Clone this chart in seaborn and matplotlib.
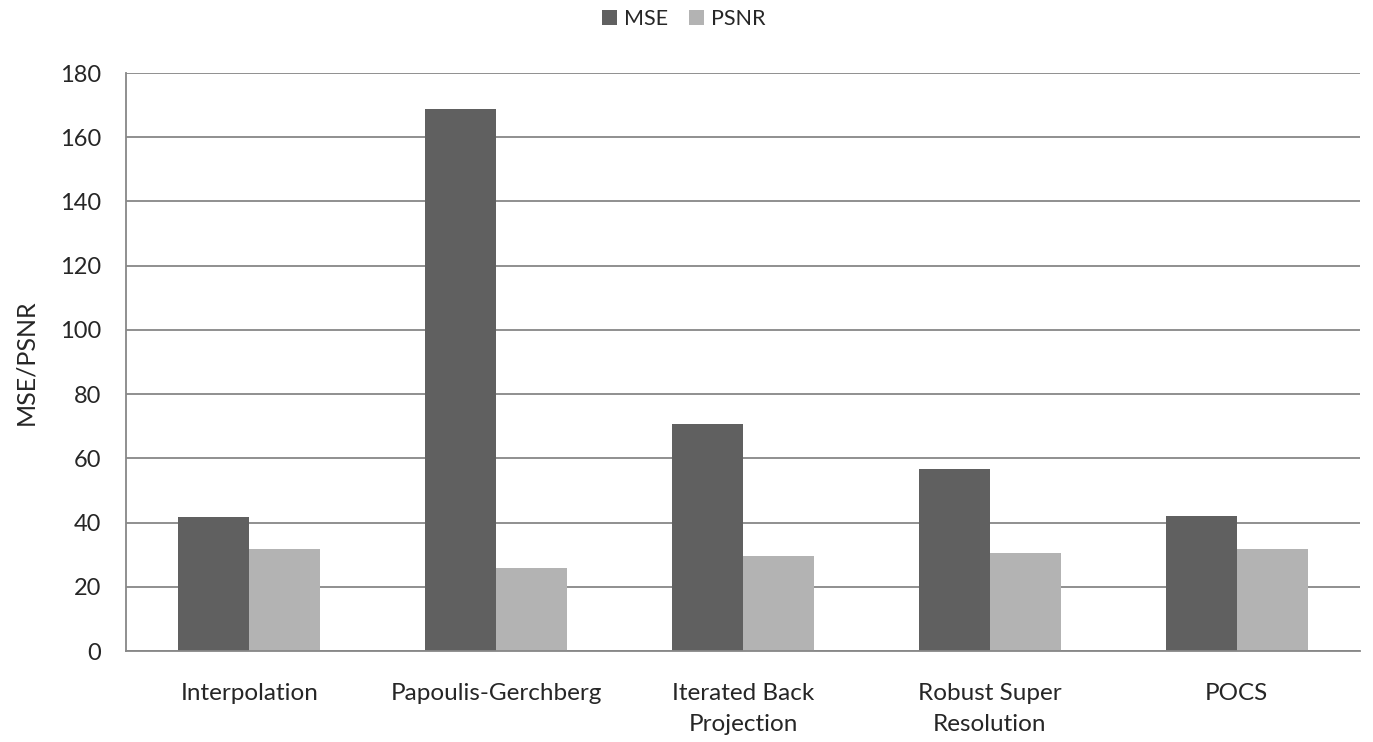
import matplotlib
matplotlib.use("Agg")
import matplotlib.pyplot as plt
import seaborn as sns
import pandas as pd
import numpy as np

categories = ["Interpolation", "Papoulis-Gerchberg", "Iterated Back\nProjection",
              "Robust Super\nResolution", "POCS"]
mse = [41.7, 168.8, 70.6, 56.8, 41.9]
psnr = [31.9, 25.8, 29.6, 30.5, 31.9]
yticks = [0, 20, 40, 60, 80, 100, 120, 140, 160, 180]

df = pd.DataFrame({
    "Method": categories * 2,
    "Value": mse + psnr,
    "Metric": ["MSE"] * len(categories) + ["PSNR"] * len(categories),
})

sns.set_theme(style="white")
plt.rcParams["font.family"] = ["Lato", "DejaVu Sans"]

fig = plt.figure(figsize=(13.73, 7.42), dpi=100)
ax = fig.add_axes([126 / 1373, 1 - 651 / 742, (1360 - 126) / 1373, (651 - 73) / 742])

sns.barplot(data=df, x="Method", y="Value", hue="Metric",
            palette={"MSE": "#606060", "PSNR": "#b3b3b3"},
            width=0.575, gap=0, ax=ax, saturation=1, errorbar=None, linewidth=0)

ax.set_xlim(-0.5, len(categories) - 0.5)
ax.set_ylim(0, 180)
ax.set_yticks(yticks)
ax.set_yticklabels([str(t) for t in yticks], fontsize=17)
ax.yaxis.grid(True, color="#878787", linewidth=1.3)
ax.set_axisbelow(True)

ax.set_xticks(range(len(categories)))
ax.set_xticklabels(categories, fontsize=17.5, linespacing=1.6)
ax.set_xticks(np.arange(-0.5, len(categories), 1.0), minor=True)
ax.tick_params(axis="x", which="major", length=0, pad=23)
ax.tick_params(axis="x", which="minor", length=8, width=1.3, color="#878787", direction="out")
ax.tick_params(axis="y", which="major", length=6, width=1.3, color="#878787", direction="out", pad=12)

for s in ["top", "right"]:
    ax.spines[s].set_visible(False)
for s in ["left", "bottom"]:
    ax.spines[s].set_color("#878787")
    ax.spines[s].set_linewidth(1.3)

ax.set_xlabel("")
ax.set_ylabel("MSE/PSNR", fontsize=18, labelpad=16)

leg = ax.legend(loc="center", bbox_to_anchor=(0.452, 1.093), ncol=2, frameon=False,
                fontsize=15.5, handlelength=0.7, handleheight=0.7, handletextpad=0.3,
                columnspacing=1.0)

fig.savefig("out.png", dpi=100, facecolor="white")
